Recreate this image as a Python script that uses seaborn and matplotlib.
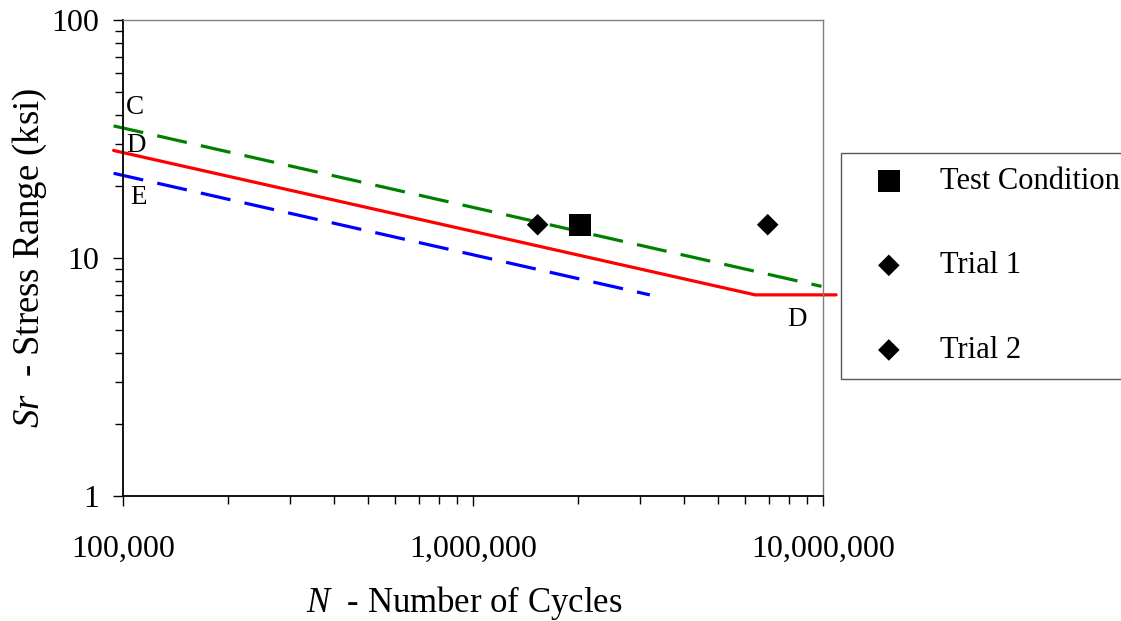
import matplotlib
matplotlib.use("Agg")
import matplotlib.pyplot as plt
import seaborn as sns
from matplotlib.ticker import LogLocator, FixedLocator, FixedFormatter, NullFormatter

# ---- data ----
cat_c_n = [9.4e4, 9.9e6]
cat_c_sr = [35.9, 7.6]
cat_d_n = [9.4e4, 6.4e6, 1.09e7]
cat_d_sr = [28.3, 7.0, 7.0]
cat_e_n = [9.4e4, 3.2e6]
cat_e_sr = [22.7, 7.0]

test_n = [2.02e6]
test_sr = [13.8]
trial1_n = [1.53e6]
trial1_sr = [13.8]
trial2_n = [6.95e6]
trial2_sr = [13.8]

x_ticks = [1e5, 1e6, 1e7]
x_tick_labels = ["100,000", "1,000,000", "10,000,000"]
y_ticks = [1, 10, 100]
y_tick_labels = ["1", "10", "100"]

# ---- style ----
sns.set_style("white")
plt.rcParams["font.family"] = ["Liberation Serif", "DejaVu Serif"]
plt.rcParams["mathtext.fontset"] = "custom"
plt.rcParams["mathtext.rm"] = "Liberation Serif"
plt.rcParams["mathtext.it"] = "Liberation Serif:italic"
for key in ["text.color", "axes.labelcolor", "xtick.color", "ytick.color"]:
    plt.rcParams[key] = "black"

W, H = 1121, 621
fig = plt.figure(figsize=(W / 100, H / 100), dpi=100)
ax = fig.add_axes([123 / W, 1 - 496 / H, 700 / W, 476 / H])

lw = 2.3
dash = (0, (9.5, 4.5))
sns.lineplot(x=cat_c_n, y=cat_c_sr, ax=ax, color="#008000", linewidth=lw,
             linestyle=dash, clip_on=False, legend=False, estimator=None, sort=False)
sns.lineplot(x=cat_d_n, y=cat_d_sr, ax=ax, color="#FF0000", linewidth=lw,
             clip_on=False, legend=False, estimator=None, sort=False)
sns.lineplot(x=cat_e_n, y=cat_e_sr, ax=ax, color="#0000FF", linewidth=lw,
             linestyle=dash, clip_on=False, legend=False, estimator=None, sort=False)

sns.scatterplot(x=test_n, y=test_sr, ax=ax, marker="s", s=256, color="black",
                edgecolor="none", label="Test Condition", zorder=5)
sns.scatterplot(x=trial1_n, y=trial1_sr, ax=ax, marker="D", s=121, color="black",
                edgecolor="none", label="Trial 1", zorder=5)
sns.scatterplot(x=trial2_n, y=trial2_sr, ax=ax, marker="D", s=121, color="black",
                edgecolor="none", label="Trial 2", zorder=5)

ax.set_xscale("log")
ax.set_yscale("log")
ax.set_xlim(1e5, 1e7)
ax.set_ylim(1, 100)

tick_fs = 23
ax.xaxis.set_major_locator(FixedLocator(x_ticks))
ax.xaxis.set_major_formatter(FixedFormatter(x_tick_labels))
ax.yaxis.set_major_locator(FixedLocator(y_ticks))
ax.yaxis.set_major_formatter(FixedFormatter(y_tick_labels))
ax.xaxis.set_minor_locator(LogLocator(base=10, subs=range(2, 10)))
ax.yaxis.set_minor_locator(LogLocator(base=10, subs=range(2, 10)))
ax.xaxis.set_minor_formatter(NullFormatter())
ax.yaxis.set_minor_formatter(NullFormatter())

ax.tick_params(axis="both", which="both", direction="out", color="black",
               labelcolor="black", width=1.0)
ax.tick_params(axis="x", which="major", length=7, pad=21, labelsize=tick_fs)
ax.tick_params(axis="x", which="minor", length=6)
ax.tick_params(axis="y", which="major", length=7, pad=10, labelsize=tick_fs)
ax.tick_params(axis="y", which="minor", length=6)
ax.tick_params(left=True, bottom=True, which="both")

for s in ["left", "bottom"]:
    ax.spines[s].set_color("black")
    ax.spines[s].set_linewidth(1.3)
for s in ["top", "right"]:
    ax.spines[s].set_color("#808080")
    ax.spines[s].set_linewidth(1.0)

ax.set_xlabel(r"$N$  - Number of Cycles", fontsize=25, color="black")
ax.set_ylabel(r"$Sr$  - Stress Range (ksi)", fontsize=26.5, color="black")
ax.xaxis.set_label_coords(0.487, -0.184)
ax.yaxis.set_label_coords(-0.106, 0.5)

# curve category labels
lab_fs = 19.5
ax.text(1.02e5, 42.7, "C", fontsize=lab_fs, va="center", ha="left", color="black")
ax.text(1.02e5, 29.8, "D", fontsize=lab_fs, va="center", ha="left", color="black")
ax.text(1.05e5, 18.0, "E", fontsize=lab_fs, va="center", ha="left", color="black")
ax.text(7.89e6, 5.49, "D", fontsize=lab_fs, va="center", ha="left", color="black")

leg = ax.legend(loc="upper left", bbox_to_anchor=(841 / W, 1 - 153 / H),
                bbox_transform=fig.transFigure, borderaxespad=0, fontsize=22,
                frameon=True, fancybox=False, borderpad=0.45, labelspacing=1.82,
                handlelength=2.23, handletextpad=0.56, edgecolor="#303030",
                labelcolor="black")
leg.get_frame().set_linewidth(1.0)

fig.savefig("out.png", dpi=100)
